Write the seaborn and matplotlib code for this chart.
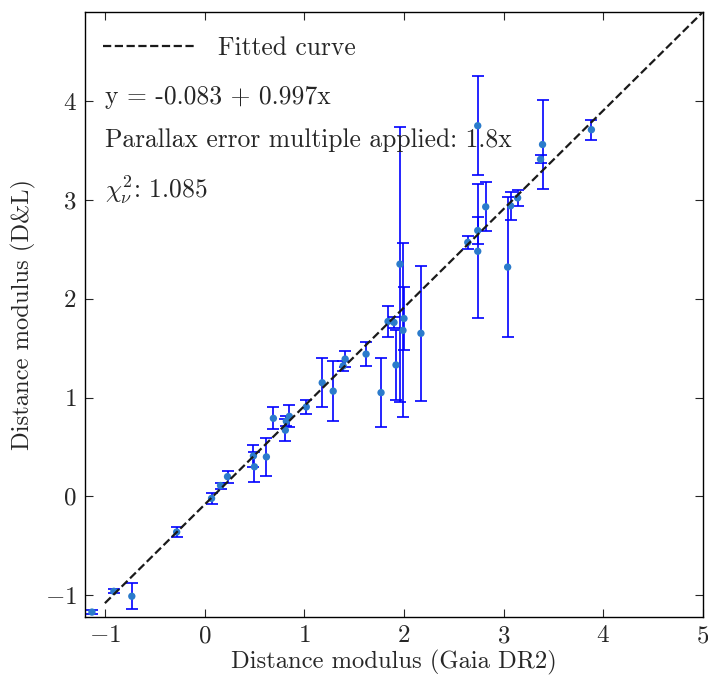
import matplotlib
matplotlib.use("Agg")
import matplotlib.pyplot as plt
import seaborn as sns
import numpy as np
import pandas as pd

# Data
gaia_dm = [-1.13, -0.91, -0.73, -0.28, 0.07, 0.16, 0.23, 0.49, 0.50, 0.62,
           0.69, 0.81, 0.82, 0.85, 1.02, 1.18, 1.29, 1.39, 1.41, 1.62,
           1.77, 1.84, 1.90, 1.92, 1.96, 1.99, 2.00, 2.17, 2.64, 2.74,
           2.74, 2.74, 2.82, 3.04, 3.07, 3.14, 3.37, 3.39, 3.88]
dl_dm = [-1.17, -0.96, -1.01, -0.36, -0.02, 0.11, 0.20, 0.41, 0.30, 0.40,
         0.79, 0.67, 0.76, 0.81, 0.905, 1.15, 1.065, 1.32, 1.39, 1.44,
         1.05, 1.77, 1.76, 1.33, 2.35, 1.68, 1.80, 1.65, 2.57, 3.75,
         2.69, 2.48, 2.93, 2.32, 2.94, 3.02, 3.41, 3.56, 3.71]
dl_err = [0.02, 0.02, 0.13, 0.05, 0.055, 0.03, 0.06, 0.115, 0.15, 0.195,
          0.11, 0.11, 0.05, 0.11, 0.07, 0.25, 0.30, 0.05, 0.08, 0.125,
          0.35, 0.16, 0.06, 0.35, 1.39, 0.88, 0.32, 0.68, 0.065, 0.50,
          0.14, 0.68, 0.25, 0.71, 0.14, 0.08, 0.04, 0.45, 0.10]
fit_intercept = -0.083
fit_slope = 0.997
fit_x = [-1.0, 5.0]
x_ticks = [-1, 0, 1, 2, 3, 4, 5]
y_ticks = [-1, 0, 1, 2, 3, 4]

sns.set_style("ticks")
plt.rcParams["font.family"] = ["serif"]
plt.rcParams["font.serif"] = ["cmr10", "DejaVu Serif"]
plt.rcParams["mathtext.fontset"] = "cm"
plt.rcParams["axes.formatter.use_mathtext"] = True
plt.rcParams["axes.unicode_minus"] = True

df = pd.DataFrame({"gaia": gaia_dm, "dl": dl_dm, "err": dl_err})
fit_df = pd.DataFrame({"x": fit_x,
                       "y": [fit_intercept + fit_slope * v for v in fit_x]})

fig = plt.figure(figsize=(7.08, 6.77), dpi=100)
ax = fig.add_axes([0.12, 0.0886, 0.873, 0.8936])

ax.errorbar(df["gaia"], df["dl"], yerr=df["err"], fmt="none",
            ecolor="#0000ff", elinewidth=1.2, capsize=4.5, capthick=1.2, zorder=2)
sns.scatterplot(data=df, x="gaia", y="dl", ax=ax, color="#2b7bcb",
                s=28, edgecolor="none", zorder=3)
sns.lineplot(data=fit_df, x="x", y="y", ax=ax, color="#1a1a1a",
             linestyle="--", linewidth=1.6, label="Fitted curve", zorder=4)

ax.set_xlim(-1.2, 5)
ax.set_ylim(-1.22, 4.9)
ax.set_xticks(x_ticks)
ax.set_yticks(y_ticks)
ax.tick_params(direction="in", top=True, right=True, length=6, width=0.8,
               labelsize=18, pad=6)
for s in ax.spines.values():
    s.set_linewidth(1.0)
    s.set_color("black")

ax.set_xlabel("Distance modulus (Gaia DR2)", fontsize=17.7, labelpad=2)
ax.set_ylabel("Distance modulus (D&L)", fontsize=17.7, labelpad=6)

leg = ax.legend(loc="center left", bbox_to_anchor=(0.0, 0.941), frameon=False,
                fontsize=18.4, handlelength=3.6, borderaxespad=0.3,
                handletextpad=0.9)

ax.text(0.032, 0.86, "y = -0.083 + 0.997x", transform=ax.transAxes,
        fontsize=18.4, va="center", ha="left")
ax.text(0.032, 0.788, "Parallax error multiple applied: 1.8x",
        transform=ax.transAxes, fontsize=18.4, va="center", ha="left")
ax.text(0.032, 0.706, r"$\chi^2_\nu$: 1.085", transform=ax.transAxes,
        fontsize=18.4, va="center", ha="left")

fig.savefig("out.png", dpi=100)
